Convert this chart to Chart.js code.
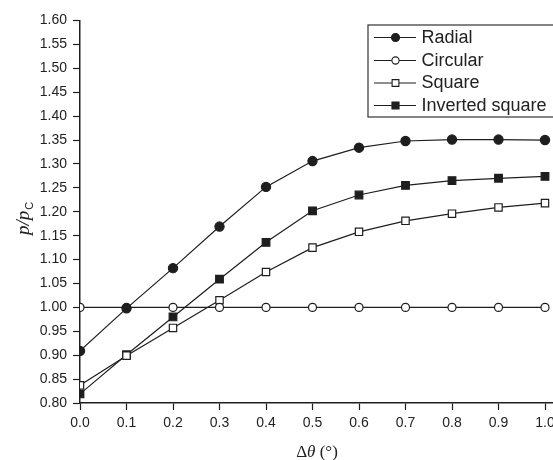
<!DOCTYPE html>
<html>
<head>
<meta charset="utf-8">
<script src="https://cdn.jsdelivr.net/npm/chart.js@4/dist/chart.umd.min.js"></script>
<style>
  html, body { margin: 0; padding: 0; background: #fff; overflow: hidden; }
  #wrap { width: 580px; height: 460px; }
</style>
</head>
<body>
<div id="wrap"><canvas id="chart" width="580" height="460"></canvas></div>
<script>
const dTheta = [0.0, 0.1, 0.2, 0.3, 0.4, 0.5, 0.6, 0.7, 0.8, 0.9, 1.0];
const radial = [0.909, 0.998, 1.082, 1.169, 1.252, 1.306, 1.334, 1.348, 1.351, 1.351, 1.350];
const circular = [1.0, 1.0, 1.0, 1.0, 1.0, 1.0, 1.0, 1.0, 1.0, 1.0, 1.0];
const square = [0.837, 0.899, 0.957, 1.015, 1.074, 1.125, 1.158, 1.181, 1.196, 1.209, 1.218];
const invertedSquare = [0.819, 0.901, 0.980, 1.059, 1.136, 1.202, 1.235, 1.255, 1.265, 1.270, 1.274];
const seriesNames = ['Radial', 'Circular', 'Square', 'Inverted square'];
const xTicks = [0.0, 0.1, 0.2, 0.3, 0.4, 0.5, 0.6, 0.7, 0.8, 0.9, 1.0];
const yTicks = [0.80, 0.85, 0.90, 0.95, 1.00, 1.05, 1.10, 1.15, 1.20, 1.25, 1.30, 1.35, 1.40, 1.45, 1.50, 1.55, 1.60];

const ink = '#1e1e1e';
const pts = vals => vals.map((v, i) => ({ x: dTheta[i], y: v }));

function series(label, vals, style, fill, radius) {
  return {
    label: label,
    data: pts(vals),
    borderColor: ink,
    borderWidth: 1.2,
    pointStyle: style,
    pointRadius: radius,
    pointHoverRadius: radius,
    pointBackgroundColor: fill,
    pointBorderColor: ink,
    pointBorderWidth: 1.2,
    tension: 0
  };
}

// legend drawn by hand: line - marker - line, inside a framed box
const legendBox = {
  id: 'legendBox',
  afterDraw(chart) {
    const ctx = chart.ctx;
    ctx.save();
    ctx.strokeStyle = '#333';
    ctx.lineWidth = 1.2;
    ctx.strokeRect(368, 25, 240, 92);
    const rowY = [37.5, 60.5, 83, 105.5];
    const legendRadius = [4, 3.6, 4.8, 5];
    chart.data.datasets.forEach((ds, i) => {
      const y = rowY[i];
      ctx.strokeStyle = ink;
      ctx.lineWidth = 1.2;
      ctx.beginPath();
      ctx.moveTo(374, y);
      ctx.lineTo(416, y);
      ctx.stroke();
      ctx.fillStyle = ds.pointBackgroundColor;
      ctx.strokeStyle = ink;
      ctx.lineWidth = 1.1;
      Chart.helpers.drawPoint(ctx, { pointStyle: ds.pointStyle, radius: legendRadius[i], borderWidth: 1.1 }, 395.5, y);
      ctx.fillStyle = '#222';
      ctx.font = '18px "Liberation Sans", Arial, sans-serif';
      ctx.textBaseline = 'middle';
      ctx.textAlign = 'left';
      ctx.fillText(ds.label, 421.5, y + 0.5);
    });
    ctx.restore();
  }
};

// axis titles with mixed italic / subscript text
const axisTitles = {
  id: 'axisTitles',
  afterDraw(chart) {
    const ctx = chart.ctx;
    ctx.save();
    ctx.fillStyle = '#222';
    ctx.textBaseline = 'alphabetic';
    ctx.textAlign = 'left';

    // x title: Δθ (°)
    const parts = [
      ['Δ', '17px "Liberation Serif", "DejaVu Serif", serif'],
      ['θ', 'italic 17px "Liberation Serif", "DejaVu Serif", serif'],
      [' (°)', '17px "Liberation Serif", "DejaVu Serif", serif']
    ];
    let total = 0;
    parts.forEach(p => { ctx.font = p[1]; total += ctx.measureText(p[0]).width; });
    let x = 317 - total / 2;
    parts.forEach(p => { ctx.font = p[1]; ctx.fillText(p[0], x, 457); x += ctx.measureText(p[0]).width; });

    // y title: p/p_C rotated
    ctx.translate(29, 219);
    ctx.rotate(-Math.PI / 2);
    const main = 'p/p';
    ctx.font = 'italic 19px "Liberation Serif", "DejaVu Serif", serif';
    const w1 = ctx.measureText(main).width;
    ctx.font = '11px "Liberation Sans", Arial, sans-serif';
    const w2 = ctx.measureText('C').width;
    const x0 = -(w1 + w2) / 2;
    ctx.font = 'italic 19px "Liberation Serif", "DejaVu Serif", serif';
    ctx.fillText(main, x0, 0);
    ctx.font = '11px "Liberation Sans", Arial, sans-serif';
    ctx.fillText('C', x0 + w1 + 1, 4);
    ctx.restore();
  }
};

const ctx = document.getElementById('chart').getContext('2d');
new Chart(ctx, {
  type: 'line',
  data: {
    datasets: [
      series(seriesNames[0], radial, 'circle', ink, 4.6),
      series(seriesNames[1], circular, 'circle', '#fff', 4),
      series(seriesNames[2], square, 'rect', '#fff', 5.2),
      series(seriesNames[3], invertedSquare, 'rect', ink, 5.4)
    ]
  },
  options: {
    responsive: false,
    animation: false,
    layout: { padding: { top: 20.5, right: 16.4, bottom: 0, left: 0 } },
    plugins: {
      legend: { display: false },
      tooltip: { enabled: false }
    },
    scales: {
      x: {
        type: 'linear',
        min: 0,
        max: 1.04,
        afterBuildTicks: s => { s.ticks = xTicks.map(v => ({ value: v })); },
        afterFit: s => { s.height = 57; },
        ticks: {
          callback: v => v.toFixed(1),
          font: { family: '"Liberation Sans", Arial, sans-serif', size: 14 },
          color: '#222',
          padding: 5,
          maxRotation: 0
        },
        grid: { drawOnChartArea: false, drawTicks: true, tickLength: 7, color: ink, tickWidth: 1.2 },
        border: { display: true, color: ink, width: 1.5 }
      },
      y: {
        min: 0.8,
        max: 1.6,
        afterBuildTicks: s => { s.ticks = yTicks.map(v => ({ value: v })); },
        afterFit: s => { s.width = 80; },
        ticks: {
          callback: v => v.toFixed(2),
          font: { family: '"Liberation Sans", Arial, sans-serif', size: 14 },
          color: '#222',
          padding: 6
        },
        grid: { drawOnChartArea: false, drawTicks: true, tickLength: 7, color: ink, tickWidth: 1.2 },
        border: { display: true, color: ink, width: 1.5 }
      }
    }
  },
  plugins: [legendBox, axisTitles]
});
</script>
</body>
</html>
